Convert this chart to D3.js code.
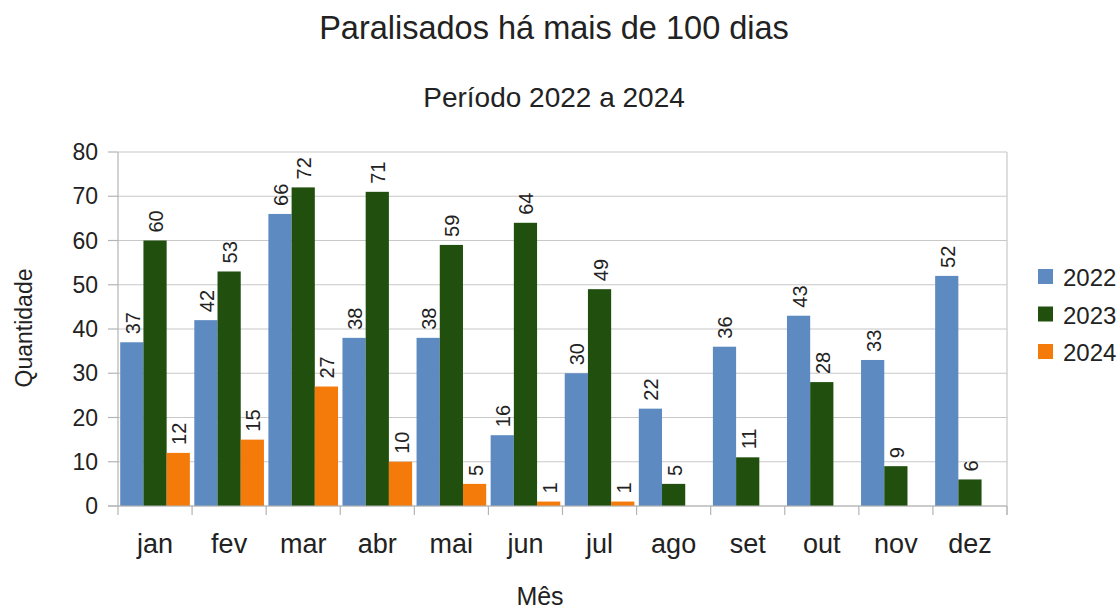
<!DOCTYPE html>
<html>
<head>
<meta charset="utf-8">
<script src="https://cdn.jsdelivr.net/npm/d3@7"></script>
<style>
  body { margin: 0; background: #fff; }
  text { font-family: "Liberation Sans", Arial, sans-serif; fill: #222; }
</style>
</head>
<body>
<div id="chart"></div>
<script>
// chart data
var months = ["jan", "fev", "mar", "abr", "mai", "jun", "jul", "ago", "set", "out", "nov", "dez"];
var seriesNames = ["2022", "2023", "2024"];
var values2022 = [37, 42, 66, 38, 38, 16, 30, 22, 36, 43, 33, 52];
var values2023 = [60, 53, 72, 71, 59, 64, 49, 5, 11, 28, 9, 6];
var values2024 = [12, 15, 27, 10, 5, 1, 1, null, null, null, null, null];
var yTicks = [0, 10, 20, 30, 40, 50, 60, 70, 80];
var colors = ["#5d8ac0", "#21500e", "#f47a0a"];

var series = [values2022, values2023, values2024];

var W = 1120, H = 609;
var margin = {top: 152, right: 113, bottom: 103, left: 118};
var width = W - margin.left - margin.right,
    height = H - margin.top - margin.bottom;

var svg = d3.select("#chart").append("svg")
    .attr("width", W)
    .attr("height", H);

// titles
svg.append("text")
    .attr("x", 554).attr("y", 39)
    .attr("text-anchor", "middle")
    .style("font-size", "32.5px")
    .text("Paralisados há mais de 100 dias");

svg.append("text")
    .attr("x", 554).attr("y", 107)
    .attr("text-anchor", "middle")
    .style("font-size", "28px")
    .text("Período 2022 a 2024");

var g = svg.append("g")
    .attr("transform", "translate(" + margin.left + "," + margin.top + ")");

var x0 = d3.scaleBand().domain(months).range([0, width]).paddingInner(0.06).paddingOuter(0.03);
var x1 = d3.scaleBand().domain(d3.range(seriesNames.length)).range([0, x0.bandwidth()]);
var y = d3.scaleLinear().domain([0, 80]).range([height, 0]);
var step = width / months.length;

// gridlines
g.selectAll(".grid").data(yTicks).enter().append("line")
    .attr("x1", 0).attr("x2", width)
    .attr("y1", d => y(d)).attr("y2", d => y(d))
    .attr("stroke", "#c8c8c8").attr("stroke-width", 1.2);

// right border line of plot area
g.append("line")
    .attr("x1", width).attr("x2", width)
    .attr("y1", 0).attr("y2", height + 9)
    .attr("stroke", "#c8c8c8").attr("stroke-width", 1.2);

// bars
var groups = g.selectAll(".month").data(months).enter().append("g")
    .attr("transform", d => "translate(" + x0(d) + ",0)");

groups.each(function(m, mi) {
    var grp = d3.select(this);
    series.forEach(function(s, si) {
        var v = s[mi];
        if (v == null) return;
        grp.append("rect")
            .attr("x", x1(si))
            .attr("y", y(v))
            .attr("width", x1.bandwidth())
            .attr("height", height - y(v))
            .attr("fill", colors[si]);
        var cx = x1(si) + x1.bandwidth() / 2 + 8;
        var ty = y(v) - 8;
        grp.append("text")
            .attr("transform", "translate(" + cx + "," + ty + ") rotate(-90)")
            .style("font-size", "20px")
            .text(v);
    });
});

// axes lines
g.append("line")
    .attr("x1", 0).attr("x2", 0).attr("y1", 0).attr("y2", height)
    .attr("stroke", "#b4b4b4").attr("stroke-width", 1.2);
g.append("line")
    .attr("x1", -10).attr("x2", width).attr("y1", height).attr("y2", height)
    .attr("stroke", "#b4b4b4").attr("stroke-width", 1.2);

// y ticks
g.selectAll(".ytick").data(yTicks).enter().append("line")
    .attr("x1", -10).attr("x2", 0)
    .attr("y1", d => y(d)).attr("y2", d => y(d))
    .attr("stroke", "#b4b4b4").attr("stroke-width", 1.2);
g.selectAll(".ylab").data(yTicks).enter().append("text")
    .attr("x", -20).attr("y", d => y(d) + 8)
    .attr("text-anchor", "end")
    .style("font-size", "23px")
    .text(d => d);

// x ticks at category boundaries
g.selectAll(".xtick").data(d3.range(months.length + 1)).enter().append("line")
    .attr("x1", d => d * step).attr("x2", d => d * step)
    .attr("y1", height).attr("y2", height + 9)
    .attr("stroke", "#b4b4b4").attr("stroke-width", 1.2);
g.selectAll(".xlab").data(months).enter().append("text")
    .attr("x", d => x0(d) + x0.bandwidth() / 2)
    .attr("y", height + 47)
    .attr("text-anchor", "middle")
    .style("font-size", "27px")
    .text(d => d);

// axis titles
svg.append("text")
    .attr("transform", "translate(32,328) rotate(-90)")
    .attr("text-anchor", "middle")
    .style("font-size", "23px")
    .text("Quantidade");
svg.append("text")
    .attr("x", 540).attr("y", 605)
    .attr("text-anchor", "middle")
    .style("font-size", "25px")
    .text("Mês");

// legend
var legend = svg.selectAll(".leg").data(seriesNames).enter().append("g")
    .attr("transform", (d, i) => "translate(1038," + (269 + i * 37.5) + ")");
legend.append("rect")
    .attr("width", 15).attr("height", 15)
    .attr("fill", (d, i) => colors[i]);
legend.append("text")
    .attr("x", 25).attr("y", 17)
    .style("font-size", "24px")
    .text(d => d);
</script>
</body>
</html>
